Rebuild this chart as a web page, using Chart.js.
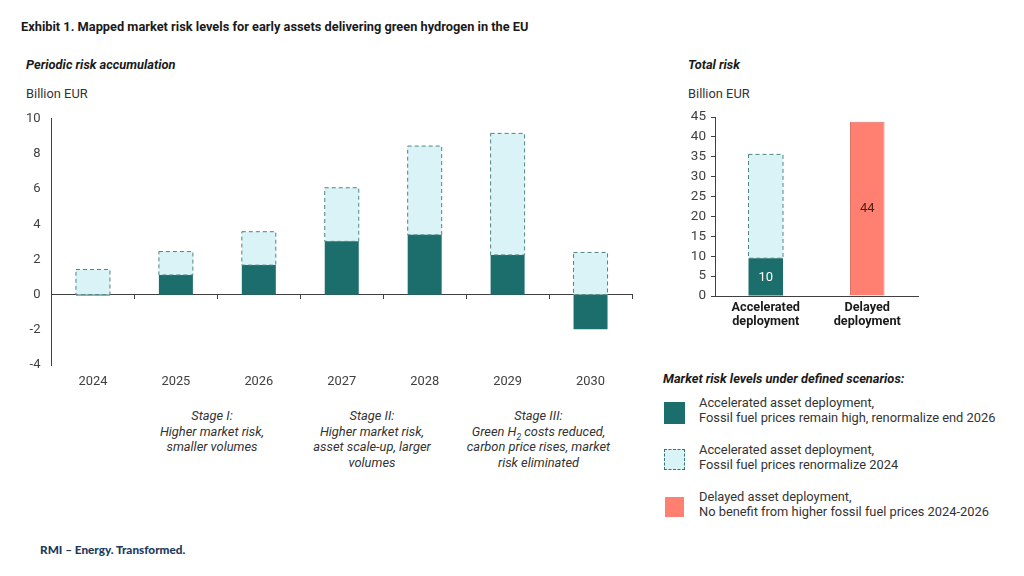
<!DOCTYPE html>
<html>
<head>
<meta charset="utf-8">
<script src="https://cdn.jsdelivr.net/npm/chart.js@4"></script>
<style>
  html, body { margin: 0; padding: 0; background: #fff; }
  body { width: 1024px; height: 576px; position: relative; overflow: hidden; font-family: Roboto, sans-serif; color: #333; }
  .t { position: absolute; white-space: nowrap; font-size: 12.85px; line-height: 15px; }
  .b { font-weight: 700; color: #1a1a1a; }
  .bi { font-weight: 700; font-style: italic; color: #1a1a1a; }
  .stage { font-style: italic; text-align: center; transform: translateX(-50%); line-height: 15.7px; }
  .stage sub { font-size: 8.5px; line-height: 0; }
  .swatch { position: absolute; box-sizing: border-box; }
  canvas { position: absolute; }
</style>
</head>
<body>
<div class="t b" style="left:21px;top:19px;font-size:12.8px">Exhibit 1. Mapped market risk levels for early assets delivering green hydrogen in the EU</div>
<div class="t bi" style="left:26px;top:57px">Periodic risk accumulation</div>
<div class="t" style="left:26px;top:86px">Billion EUR</div>
<div class="t bi" style="left:688px;top:57px">Total risk</div>
<div class="t" style="left:688px;top:86px">Billion EUR</div>

<div style="position:absolute;left:0;top:100px;width:650px;height:300px"><canvas id="periodic"></canvas></div>
<div style="position:absolute;left:670px;top:100px;width:270px;height:240px"><canvas id="total"></canvas></div>

<div class="t stage" style="left:212px;top:408px">Stage I:<br>Higher market risk,<br>smaller volumes</div>
<div class="t stage" style="left:372px;top:408px">Stage II:<br>Higher market risk,<br>asset scale-up, larger<br>volumes</div>
<div class="t stage" style="left:538.5px;top:408px">Stage III:<br>Green H<sub>2</sub> costs reduced,<br>carbon price rises, market<br>risk eliminated</div>

<div class="t bi" style="left:663px;top:371px">Market risk levels under defined scenarios:</div>
<div class="swatch" style="left:664px;top:402px;width:21px;height:22px;background:#1c6e6c"></div>
<div class="t" style="left:699px;top:395px">Accelerated asset deployment,<br>Fossil fuel prices remain high, renormalize end 2026</div>
<div class="swatch" style="left:664px;top:449px;width:21px;height:21px;background:#d9f3f6;border:1.5px dashed #2f7a78"></div>
<div class="t" style="left:699px;top:442px">Accelerated asset deployment,<br>Fossil fuel prices renormalize 2024</div>
<div class="swatch" style="left:665px;top:497px;width:19px;height:20px;background:#ff8070"></div>
<div class="t" style="left:699px;top:489px">Delayed asset deployment,<br>No benefit from higher fossil fuel prices 2024-2026</div>

<div class="t" style="left:40px;top:542px;font-family:Lato,sans-serif;font-weight:900;font-size:11.75px;color:#1d3a5c">RMI – Energy. Transformed.</div>

<script>
const years = ['2024', '2025', '2026', '2027', '2028', '2029', '2030']
const highPrices = [-0.05, 1.12, 1.68, 3.03, 3.4, 2.26, -1.97]
const renormalized = [1.43, 1.33, 1.9, 3.05, 5.05, 6.91, 2.4]

const scenarios = [['Accelerated', 'deployment'], ['Delayed', 'deployment']]
const totalHigh = [9.5, null]
const totalRenormalized = [26.1, null]
const totalDelayed = [null, 43.8]
const totalLabels = ['10', '44']

const teal = '#1c6e6c'
const lightBlue = '#d9f3f6'
const salmon = '#ff8070'
const axisColor = '#404040'

// bars have no dash option, so stroke the outline from the bar element
const dashedBars = {
  id: 'dashedBars',
  afterDatasetsDraw(chart) {
    const ctx = chart.ctx
    chart.data.datasets.forEach((ds, i) => {
      if (!ds.dashed) return
      chart.getDatasetMeta(i).data.forEach((bar, j) => {
        if (ds.data[j] == null) return
        const p = bar.getProps(['x', 'y', 'base', 'width'], true)
        ctx.save()
        ctx.strokeStyle = '#4f8584'
        ctx.lineWidth = 1
        ctx.setLineDash([4, 3])
        ctx.strokeRect(p.x - p.width / 2, p.y, p.width, p.base - p.y)
        ctx.restore()
      })
    })
  }
}

// value labels in the middle of the total bars
const totalValues = {
  id: 'totalValues',
  afterDatasetsDraw(chart) {
    const ctx = chart.ctx
    const dark = chart.getDatasetMeta(0).data[0].getProps(['x', 'y', 'base'], true)
    const red = chart.getDatasetMeta(2).data[1].getProps(['x', 'y', 'base'], true)
    ctx.save()
    ctx.font = '13px Roboto'
    ctx.textAlign = 'center'
    ctx.textBaseline = 'middle'
    ctx.fillStyle = '#ffffff'
    ctx.fillText(totalLabels[0], dark.x, (dark.y + dark.base) / 2 + 1)
    ctx.fillStyle = '#4a1f18'
    ctx.fillText(totalLabels[1], red.x, (red.y + red.base) / 2)
    ctx.restore()
  }
}

new Chart(document.getElementById('periodic'), {
  type: 'bar',
  data: {
    labels: years,
    datasets: [
      { data: highPrices, backgroundColor: teal },
      { data: renormalized, backgroundColor: lightBlue, dashed: true }
    ]
  },
  options: {
    animation: false,
    responsive: true,
    maintainAspectRatio: false,
    devicePixelRatio: 1,
    layout: { padding: { top: 18, right: 18, left: 0, bottom: 0 } },
    plugins: { legend: { display: false }, tooltip: { enabled: false } },
    datasets: { bar: { categoryPercentage: 1, barPercentage: 0.41 } },
    scales: {
      x: {
        stacked: true,
        position: { y: 0 },
        ticks: { display: false },
        grid: { offset: true, drawOnChartArea: false, drawTicks: true, tickLength: 4, color: axisColor },
        border: { color: axisColor, width: 1 }
      },
      years: {
        type: 'category',
        axis: 'x',
        position: 'bottom',
        labels: years,
        offset: true,
        grid: { display: false },
        border: { display: false },
        ticks: { color: axisColor, font: { family: 'Roboto', size: 12.85 }, padding: 1, maxRotation: 0 },
        afterFit: s => { s.height = 35 }
      },
      y: {
        stacked: true,
        min: -4,
        max: 10,
        ticks: { stepSize: 2, color: axisColor, font: { family: 'Roboto', size: 13 }, padding: 11 },
        grid: { display: false, drawTicks: false },
        border: { color: axisColor, width: 1 },
        afterFit: s => { s.width = 51.5 }
      }
    }
  },
  plugins: [dashedBars]
})

new Chart(document.getElementById('total'), {
  type: 'bar',
  data: {
    labels: scenarios,
    datasets: [
      { data: totalHigh, backgroundColor: teal },
      { data: totalRenormalized, backgroundColor: lightBlue, dashed: true },
      { data: totalDelayed, backgroundColor: salmon, borderColor: '#d9736a', borderWidth: 1 }
    ]
  },
  options: {
    animation: false,
    responsive: true,
    maintainAspectRatio: false,
    devicePixelRatio: 1,
    layout: { padding: { top: 17, right: 22, left: 0, bottom: 0 } },
    plugins: { legend: { display: false }, tooltip: { enabled: false } },
    datasets: { bar: { categoryPercentage: 1, barPercentage: 0.34 } },
    scales: {
      x: {
        stacked: true,
        grid: { display: false, drawTicks: false },
        border: { color: axisColor, width: 1 },
        ticks: { color: '#1a1a1a', font: { family: 'Roboto', size: 12.7, weight: 'bold', lineHeight: 1.1 }, padding: 5, maxRotation: 0 },
        afterFit: s => { s.height = 44 }
      },
      y: {
        stacked: true,
        min: 0,
        max: 45,
        ticks: { stepSize: 5, color: axisColor, font: { family: 'Roboto', size: 13.5 }, padding: 5 },
        grid: { drawOnChartArea: false, tickLength: 4, color: axisColor },
        border: { color: axisColor, width: 1 },
        afterFit: s => { s.width = 45 }
      }
    }
  },
  plugins: [dashedBars, totalValues]
})
</script>
</body>
</html>
